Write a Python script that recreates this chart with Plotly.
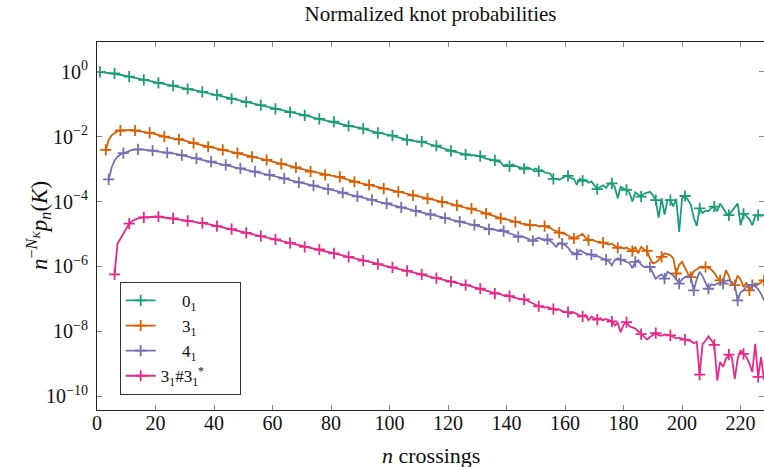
import plotly.graph_objects as go

# ---------------- data (log10 of n^{-N_K} p_n(K)) ----------------
start_01 = 1
log_01 = [
    0.00, -0.01, -0.02, -0.03, -0.04, -0.05, -0.07, -0.09, -0.11, -0.13,
    -0.15, -0.17, -0.19, -0.21, -0.23, -0.25, -0.27, -0.29, -0.31, -0.32,
    -0.34, -0.36, -0.38, -0.39, -0.41, -0.43, -0.45, -0.47, -0.49, -0.51,
    -0.53, -0.55, -0.56, -0.58, -0.60, -0.62, -0.64, -0.66, -0.67, -0.69,
    -0.71, -0.73, -0.76, -0.78, -0.80, -0.83, -0.85, -0.87, -0.89, -0.91,
    -0.93, -0.95, -0.97, -0.99, -1.01, -1.03, -1.05, -1.07, -1.10, -1.12,
    -1.14, -1.16, -1.18, -1.20, -1.22, -1.24, -1.26, -1.28, -1.30, -1.32,
    -1.34, -1.36, -1.38, -1.41, -1.43, -1.45, -1.47, -1.49, -1.51, -1.52,
    -1.54, -1.57, -1.59, -1.62, -1.64, -1.67, -1.68, -1.70, -1.72, -1.73,
    -1.75, -1.78, -1.80, -1.83, -1.85, -1.88, -1.89, -1.92, -1.94, -1.95,
    -1.97, -2.00, -2.03, -2.05, -2.07, -2.10, -2.11, -2.12, -2.13, -2.14,
    -2.15, -2.18, -2.21, -2.24, -2.26, -2.28, -2.31, -2.35, -2.38, -2.41,
    -2.44, -2.46, -2.48, -2.51, -2.53, -2.55, -2.56, -2.58, -2.57, -2.59,
    -2.60, -2.64, -2.68, -2.69, -2.70, -2.73, -2.76, -2.79, -2.90, -2.86,
    -2.91, -2.86, -2.90, -2.93, -2.95, -2.99, -2.94, -2.97, -3.02, -2.98,
    -3.06, -3.03, -3.10, -3.12, -3.15, -3.30, -3.30, -3.33, -3.27, -3.23,
    -3.21, -3.28, -3.30, -3.48, -3.30, -3.36, -3.33, -3.42, -3.38, -3.50,
    -3.62, -3.55, -3.50, -3.58, -3.45, -3.44, -3.55, -3.90, -3.55, -3.60,
    -3.64, -3.72, -4.00, -3.72, -3.80, -3.85, -3.76, -3.72, -3.70, -3.80,
    -3.96, -4.50, -3.90, -4.40, -3.95, -3.96, -4.15, -3.92, -4.94, -3.90,
    -3.83, -3.95, -4.10, -4.50, -4.75, -4.21, -4.35, -4.28, -4.30, -4.20,
    -4.16, -4.30, -4.06, -4.20, -4.35, -4.42, -4.30, -4.15, -4.06, -4.73,
    -4.38, -4.45, -4.55, -4.73, -4.45, -4.42, -4.44, -4.42,
]

start_31 = 3
log_31 = [
    -2.41, -2.10, -1.96, -1.88, -1.83, -1.81, -1.80, -1.80, -1.80, -1.80,
    -1.81, -1.82, -1.83, -1.85, -1.86, -1.88, -1.90, -1.93, -1.95, -1.98,
    -2.00, -2.02, -2.03, -2.05, -2.06, -2.08, -2.10, -2.13, -2.15, -2.18,
    -2.20, -2.22, -2.24, -2.27, -2.29, -2.31, -2.33, -2.35, -2.37, -2.39,
    -2.41, -2.43, -2.45, -2.47, -2.49, -2.51, -2.53, -2.55, -2.58, -2.60,
    -2.62, -2.64, -2.66, -2.68, -2.70, -2.72, -2.74, -2.77, -2.79, -2.82,
    -2.84, -2.86, -2.88, -2.91, -2.93, -2.95, -2.98, -3.00, -3.03, -3.05,
    -3.08, -3.10, -3.12, -3.14, -3.16, -3.18, -3.19, -3.20, -3.21, -3.23,
    -3.24, -3.27, -3.30, -3.33, -3.36, -3.39, -3.41, -3.43, -3.45, -3.47,
    -3.49, -3.51, -3.53, -3.56, -3.58, -3.60, -3.62, -3.64, -3.66, -3.68,
    -3.70, -3.72, -3.75, -3.77, -3.79, -3.81, -3.83, -3.85, -3.87, -3.89,
    -3.91, -3.93, -3.95, -3.97, -3.99, -4.01, -4.03, -4.05, -4.07, -4.10,
    -4.12, -4.14, -4.16, -4.18, -4.20, -4.22, -4.25, -4.27, -4.30, -4.34,
    -4.37, -4.40, -4.41, -4.46, -4.47, -4.52, -4.54, -4.55, -4.58, -4.60,
    -4.63, -4.64, -4.68, -4.69, -4.70, -4.73, -4.74, -4.72, -4.77, -4.76,
    -4.76, -4.80, -4.82, -4.88, -4.92, -4.96, -4.98, -5.00, -5.06, -5.10,
    -5.14, -5.10, -5.05, -5.00, -5.12, -5.19, -5.18, -5.22, -5.24, -5.25,
    -5.27, -5.30, -5.33, -5.30, -5.38, -5.43, -5.40, -5.45, -5.42, -5.48,
    -5.53, -5.40, -5.60, -5.40, -5.48, -5.52, -5.75, -5.91, -5.88, -5.80,
    -5.71, -5.60, -5.62, -5.66, -5.75, -6.22, -5.95, -5.86, -6.05, -6.22,
    -6.33, -6.15, -6.10, -6.02, -6.05, -6.02, -6.05, -6.10, -6.20, -6.35,
    -6.43, -6.45, -6.12, -6.30, -6.58, -6.58, -6.28, -6.40, -6.64, -6.50,
    -6.74, -6.60, -6.53, -6.55, -6.50, -6.43,
]

start_41 = 4
log_41 = [
    -3.32, -2.95, -2.74, -2.62, -2.55, -2.51, -2.47, -2.44, -2.41, -2.40,
    -2.39, -2.39, -2.40, -2.41, -2.42, -2.43, -2.44, -2.45, -2.46, -2.48,
    -2.49, -2.50, -2.52, -2.53, -2.55, -2.57, -2.59, -2.61, -2.63, -2.65,
    -2.67, -2.69, -2.71, -2.73, -2.75, -2.77, -2.79, -2.81, -2.83, -2.85,
    -2.87, -2.89, -2.91, -2.94, -2.96, -2.98, -3.00, -3.02, -3.04, -3.06,
    -3.08, -3.10, -3.12, -3.14, -3.16, -3.18, -3.20, -3.22, -3.25, -3.27,
    -3.29, -3.31, -3.34, -3.36, -3.39, -3.41, -3.43, -3.45, -3.47, -3.49,
    -3.51, -3.53, -3.56, -3.58, -3.60, -3.62, -3.64, -3.66, -3.68, -3.70,
    -3.73, -3.75, -3.77, -3.79, -3.82, -3.84, -3.86, -3.88, -3.91, -3.93,
    -3.95, -3.97, -4.00, -4.02, -4.04, -4.06, -4.09, -4.11, -4.13, -4.15,
    -4.18, -4.20, -4.22, -4.24, -4.27, -4.29, -4.31, -4.33, -4.36, -4.38,
    -4.40, -4.42, -4.44, -4.47, -4.49, -4.51, -4.53, -4.56, -4.58, -4.60,
    -4.62, -4.64, -4.66, -4.68, -4.70, -4.72, -4.74, -4.77, -4.80, -4.83,
    -4.86, -4.84, -4.88, -4.90, -4.86, -4.91, -4.95, -4.98, -5.00, -5.04,
    -5.09, -5.06, -5.10, -5.15, -5.18, -5.21, -5.15, -5.12, -5.16, -5.20,
    -5.17, -5.22, -5.30, -5.40, -5.28, -5.30, -5.35, -5.42, -5.55, -5.58,
    -5.63, -5.50, -5.56, -5.60, -5.62, -5.64, -5.70, -5.68, -5.72, -5.76,
    -5.79, -5.85, -5.97, -5.80, -5.75, -5.79, -5.82, -5.86, -5.90, -6.05,
    -5.86, -5.81, -5.95, -6.02, -6.00, -6.02, -6.22, -6.38, -6.30, -6.25,
    -6.38, -6.17, -6.22, -6.28, -6.40, -6.53, -6.40, -6.33, -6.30, -6.35,
    -6.74, -6.40, -6.17, -6.30, -6.50, -6.69, -6.55, -6.58, -6.53, -6.50,
    -6.53, -6.45, -6.43, -6.48, -6.58, -7.05, -6.80, -6.74, -6.62, -6.58,
    -6.58, -6.62, -6.70, -6.85, -7.05,
]

start_33 = 6
log_33 = [
    -6.25, -5.30, -5.15, -4.99, -4.82, -4.68, -4.60, -4.55, -4.52, -4.50,
    -4.49, -4.48, -4.47, -4.47, -4.47, -4.47, -4.48, -4.49, -4.50, -4.51,
    -4.52, -4.53, -4.55, -4.56, -4.58, -4.60, -4.61, -4.62, -4.64, -4.65,
    -4.66, -4.68, -4.70, -4.72, -4.74, -4.76, -4.78, -4.80, -4.81, -4.83,
    -4.85, -4.87, -4.90, -4.92, -4.95, -4.97, -4.99, -5.01, -5.03, -5.05,
    -5.07, -5.09, -5.11, -5.13, -5.15, -5.17, -5.19, -5.21, -5.24, -5.26,
    -5.28, -5.30, -5.33, -5.35, -5.38, -5.40, -5.42, -5.44, -5.45, -5.47,
    -5.48, -5.50, -5.53, -5.55, -5.58, -5.60, -5.62, -5.64, -5.66, -5.69,
    -5.71, -5.73, -5.75, -5.77, -5.80, -5.82, -5.84, -5.86, -5.88, -5.90,
    -5.93, -5.95, -5.97, -5.99, -6.01, -6.03, -6.06, -6.08, -6.10, -6.12,
    -6.14, -6.16, -6.19, -6.21, -6.23, -6.25, -6.27, -6.30, -6.32, -6.34,
    -6.36, -6.38, -6.40, -6.43, -6.45, -6.47, -6.49, -6.52, -6.54, -6.56,
    -6.58, -6.60, -6.62, -6.65, -6.67, -6.69, -6.72, -6.74, -6.77, -6.80,
    -6.84, -6.82, -6.86, -6.90, -6.88, -6.92, -6.95, -6.97, -6.99, -7.00,
    -7.02, -7.05, -7.10, -7.15, -7.18, -7.23, -7.25, -7.27, -7.26, -7.30,
    -7.32, -7.35, -7.33, -7.38, -7.40, -7.41, -7.45, -7.42, -7.48, -7.52,
    -7.54, -7.50, -7.66, -7.55, -7.60, -7.64, -7.60, -7.66, -7.62, -7.66,
    -7.70, -7.82, -7.75, -8.03, -7.80, -7.72, -7.85, -7.88, -7.92, -8.00,
    -8.09, -8.20, -8.26, -8.18, -8.12, -8.06, -8.12, -8.14, -8.10, -8.12,
    -8.13, -8.18, -8.22, -8.20, -8.24, -8.26, -8.28, -8.30, -8.37, -8.32,
    -9.34, -8.39, -8.30, -8.16, -8.28, -8.42, -9.52, -8.95, -9.10, -8.85,
    -8.72, -8.80, -9.47, -8.85, -8.59, -8.70, -8.80, -9.00, -9.26, -8.39,
    -9.41, -8.80, -9.50,
]

series_names = ["0<sub>1</sub>", "3<sub>1</sub>", "4<sub>1</sub>",
                "3<sub>1</sub>#3<sub>1</sub><sup>*</sup>"]
series_starts = [start_01, start_31, start_41, start_33]
series_logs = [log_01, log_31, log_41, log_33]
colors = ["#1b9e77", "#d95f02", "#7570b3", "#e7298a"]

y_tick_exps = [0, -2, -4, -6, -8, -10]
x_ticks = [0, 20, 40, 60, 80, 100, 120, 140, 160, 180, 200, 220]

FONT = "Liberation Serif"
MARK_EVERY = 5

fig = go.Figure()
for name, s, lg, c in zip(series_names, series_starts, series_logs, colors):
    xs = list(range(s, s + len(lg)))
    ys = [10 ** v for v in lg]
    fig.add_trace(go.Scatter(x=xs, y=ys, mode="lines",
                             line=dict(color=c, width=1.8),
                             showlegend=False, hoverinfo="skip"))
    fig.add_trace(go.Scatter(x=xs[::MARK_EVERY], y=ys[::MARK_EVERY], mode="markers",
                             marker=dict(symbol="cross-thin", size=8,
                                         line=dict(color=c, width=1.8)),
                             showlegend=False, hoverinfo="skip"))

nb = "\u00a0"
legend_labels = [nb * 5 + series_names[0] + nb * 9,
                 nb * 5 + series_names[1],
                 nb * 5 + series_names[2],
                 series_names[3]]
for lab, c in zip(legend_labels, colors):
    fig.add_trace(go.Scatter(x=[None], y=[None], mode="lines+markers", name=lab,
                             line=dict(color=c, width=1.8),
                             marker=dict(symbol="cross-thin", size=8,
                                         line=dict(color=c, width=1.8))))

axis_common = dict(showline=True, linecolor="#222", linewidth=1.1, mirror="ticks",
                   ticks="inside", ticklen=5, tickwidth=1, tickcolor="#888",
                   showgrid=False, zeroline=False,
                   tickfont=dict(family=FONT, size=20, color="#111"))

fig.update_xaxes(range=[0, 228], tickvals=x_ticks, ticklabelstandoff=-5, **axis_common)
fig.update_yaxes(type="log", range=[-10.43, 0.92],
                 tickvals=[10 ** e for e in y_tick_exps],
                 ticktext=["10<sup>%s</sup>" % (str(e).replace("-", "\u2212")) for e in y_tick_exps],
                 ticklabelstandoff=4,
                 **axis_common)

fig.update_layout(
    width=764, height=467,
    margin=dict(l=97, r=0, t=42, b=57),
    paper_bgcolor="white", plot_bgcolor="white",
    font=dict(family=FONT, color="#111"),
    title=dict(text="Normalized knot probabilities", x=0.5635, xanchor="center",
               y=1 - 14 / 467, yanchor="middle",
               font=dict(family=FONT, size=21, color="#111")),
    legend=dict(x=0.034, y=0.041, xanchor="left", yanchor="bottom",
                bordercolor="#333", borderwidth=1, bgcolor="white",
                font=dict(family=FONT, size=17, color="#111"),
                tracegroupgap=0),
    annotations=[
        dict(text="<i>n</i> crossings", xref="paper", yref="paper",
             x=0.5, y=(410 - 455) / 368, xanchor="center", yanchor="middle",
             showarrow=False, font=dict(family=FONT, size=22, color="#111")),
        dict(text="<i>n</i><sup>\u2212<i>N<sub>K</sub></i></sup><i>p<sub>n</sub></i>(<i>K</i>)",
             xref="paper", yref="paper", x=(38 - 97) / 667, y=0.5,
             xanchor="center", yanchor="middle", textangle=-90,
             showarrow=False, font=dict(family=FONT, size=23, color="#111")),
    ],
)

fig.write_html("out.html")
